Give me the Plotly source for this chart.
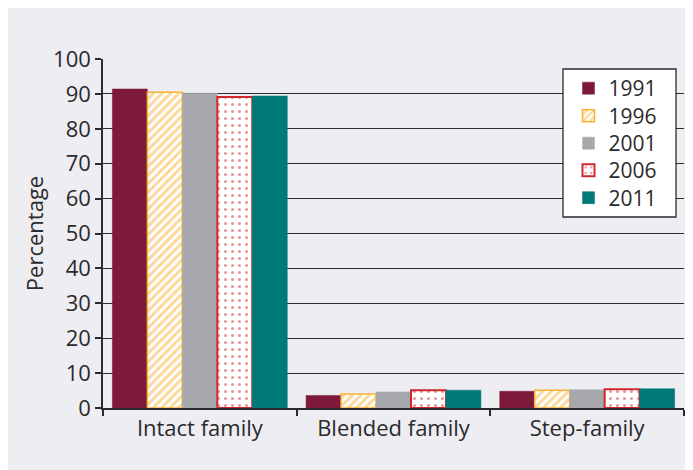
import plotly.graph_objects as go

categories = ["Intact family", "Blended family", "Step-family"]
years = ["1991", "1996", "2001", "2006", "2011"]
v1991 = [91.4, 3.6, 4.8]
v1996 = [90.5, 4.0, 5.1]
v2001 = [90.2, 4.6, 5.2]
v2006 = [89.1, 5.1, 5.4]
v2011 = [89.4, 5.1, 5.5]
y_ticks = [0, 10, 20, 30, 40, 50, 60, 70, 80, 90, 100]

FONT = "Open Sans"
BG = "#eeedf2"
INK = "#2b2a2c"

legend_keys = ["legend2", "legend3", "legend4", "legend5", "legend6"]

fig = go.Figure()
fig.add_bar(name=years[0], x=categories, y=v1991, legend=legend_keys[0],
            marker=dict(color="#7d1a3b", line=dict(color="#7d1a3b", width=0.5)))
fig.add_bar(name=years[1], x=categories, y=v1996, legend=legend_keys[1],
            marker=dict(color="white", line=dict(color="#f9b233", width=1.5),
                        pattern=dict(shape="/", fgcolor="#f9b233", bgcolor="white",
                                     size=6, solidity=0.5, fillmode="overlay")))
fig.add_bar(name=years[2], x=categories, y=v2001, legend=legend_keys[2],
            marker=dict(color="#a7a8ab", line=dict(color="#a7a8ab", width=0.5)))
fig.add_bar(name=years[3], x=categories, y=v2006, legend=legend_keys[3],
            marker=dict(color="white", line=dict(color="#d0282e", width=2),
                        pattern=dict(shape=".", fgcolor="#d0282e", bgcolor="white",
                                     size=7, solidity=0.15, fillmode="overlay")))
fig.add_bar(name=years[4], x=categories, y=v2011, legend=legend_keys[4],
            marker=dict(color="#007a78", line=dict(color="#007a78", width=0.5)))

# plot area in figure px: left 95, top 51, width 581, height 349
def px_x(fx):
    return (fx - 95) / 581

def px_y(fy):
    return (400 - fy) / 349

leg_common = dict(xanchor="left", yanchor="middle", bgcolor="rgba(0,0,0,0)",
                  borderwidth=0, font=dict(size=21, family=FONT, color=INK),
                  itemwidth=30)
item_centers = [80.5, 108, 135.5, 162.5, 190]
legends = {}
for key, cy in zip(legend_keys, item_centers):
    legends[key] = dict(x=px_x(560.5), y=px_y(cy), **leg_common)

fig.update_layout(
    width=693, height=470,
    margin=dict(l=95, r=17, t=51, b=70),
    paper_bgcolor=BG, plot_bgcolor=BG,
    barmode="group", bargap=0.097, bargroupgap=0,
    font=dict(family=FONT, size=22, color=INK),
    xaxis=dict(showline=True, linecolor=INK, linewidth=1.5,
               ticks="outside", tickson="boundaries", ticklen=6,
               tickcolor=INK, tickwidth=1.5, showgrid=False,
               tickangle=0, automargin=False,
               tickfont=dict(size=22)),
    yaxis=dict(range=[0, 100], tickvals=y_ticks, showline=True,
               linecolor=INK, linewidth=1.5, ticks="outside", ticklen=6,
               tickcolor=INK, tickwidth=1.5,
               showgrid=True, gridcolor=INK, gridwidth=1.3,
               zeroline=False, automargin=False,
               title=dict(text="Percentage", standoff=3, font=dict(size=22))),
    shapes=[
        dict(type="rect", xref="paper", yref="paper",
             x0=px_x(555), x1=px_x(668), y0=px_y(209), y1=px_y(61),
             fillcolor="white", line=dict(color=INK, width=1.3), layer="above"),
    ],
    **legends,
)

fig.write_html("out.html")
